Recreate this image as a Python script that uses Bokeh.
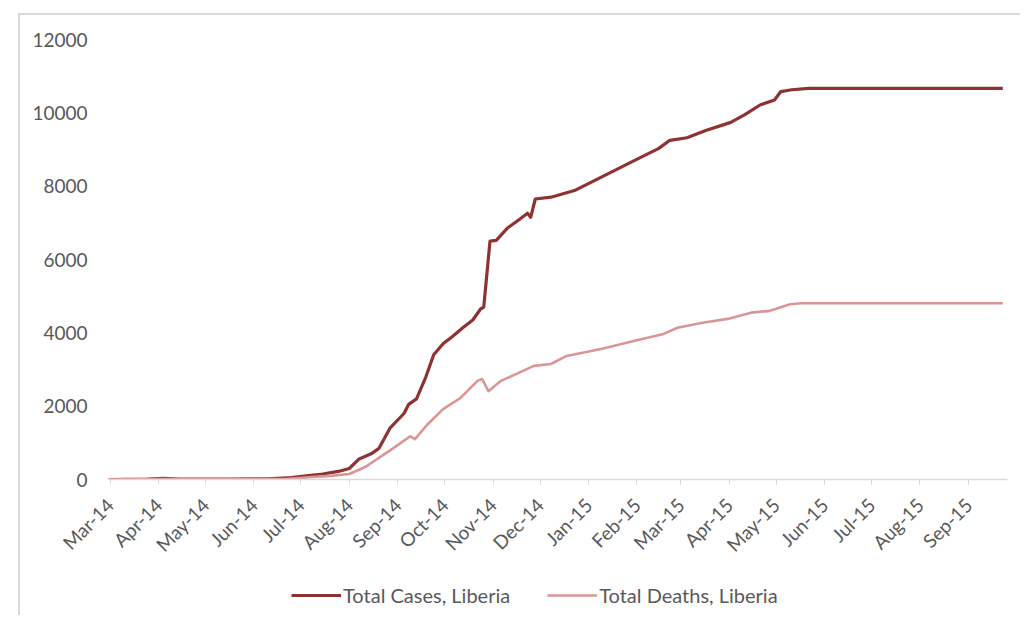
import pandas as pd
from bokeh.plotting import figure
from bokeh.layouts import column
from bokeh.models import Range1d, FixedTicker, Legend, LegendItem
from bokeh.embed import file_html
from bokeh.resources import INLINE

# ---- data ----
case_dates = ["2014-02-28", "2014-03-25", "2014-04-04", "2014-04-14", "2014-05-14",
              "2014-06-10", "2014-06-25", "2014-07-06", "2014-07-15", "2014-07-25",
              "2014-08-01", "2014-08-07", "2014-08-15", "2014-08-20", "2014-08-27",
              "2014-09-05", "2014-09-08", "2014-09-13", "2014-09-19", "2014-09-24",
              "2014-09-30", "2014-10-06", "2014-10-13", "2014-10-19", "2014-10-24",
              "2014-10-26", "2014-10-30", "2014-11-03", "2014-11-10", "2014-11-18",
              "2014-11-23", "2014-11-25", "2014-11-28", "2014-12-08", "2014-12-23",
              "2015-01-07", "2015-01-28", "2015-02-15", "2015-02-22", "2015-03-05",
              "2015-03-17", "2015-04-02", "2015-04-11", "2015-04-21", "2015-04-30",
              "2015-05-04", "2015-05-11", "2015-05-22", "2015-09-23"]
total_cases = [0, 8, 30, 12, 14,
               18, 50, 110, 150, 220,
               300, 550, 700, 850, 1400,
               1800, 2050, 2200, 2800, 3400,
               3700, 3900, 4150, 4350, 4650,
               4700, 6500, 6520, 6850, 7100,
               7260, 7150, 7650, 7700, 7880,
               8200, 8650, 9030, 9250, 9320,
               9520, 9740, 9950, 10220, 10350,
               10580, 10630, 10666, 10666]

death_dates = ["2014-02-28", "2014-04-04", "2014-06-21", "2014-07-06", "2014-07-20",
               "2014-08-01", "2014-08-08", "2014-08-12", "2014-08-23", "2014-08-29",
               "2014-09-09", "2014-09-12", "2014-09-20", "2014-09-30", "2014-10-11",
               "2014-10-22", "2014-10-25", "2014-10-29", "2014-11-06", "2014-11-16",
               "2014-11-27", "2014-12-08", "2014-12-18", "2015-01-09", "2015-01-30",
               "2015-02-18", "2015-02-27", "2015-03-14", "2015-03-31", "2015-04-15",
               "2015-04-27", "2015-05-10", "2015-05-17", "2015-09-23"]
total_deaths = [0, 15, 10, 60, 100,
                150, 280, 360, 680, 850,
                1180, 1100, 1500, 1920, 2220,
                2690, 2740, 2410, 2690, 2880,
                3100, 3150, 3370, 3560, 3780,
                3970, 4140, 4270, 4380, 4550,
                4600, 4780, 4806, 4806]

month_starts = ["2014-03-01", "2014-04-01", "2014-05-01", "2014-06-01", "2014-07-01",
                "2014-08-01", "2014-09-01", "2014-10-01", "2014-11-01", "2014-12-01",
                "2015-01-01", "2015-02-01", "2015-03-01", "2015-04-01", "2015-05-01",
                "2015-06-01", "2015-07-01", "2015-08-01", "2015-09-01"]
month_labels = ["Mar-14", "Apr-14", "May-14", "Jun-14", "Jul-14", "Aug-14", "Sep-14",
                "Oct-14", "Nov-14", "Dec-14", "Jan-15", "Feb-15", "Mar-15", "Apr-15",
                "May-15", "Jun-15", "Jul-15", "Aug-15", "Sep-15"]
y_ticks = [0, 2000, 4000, 6000, 8000, 10000, 12000]

series_names = ["Total Cases, Liberia", "Total Deaths, Liberia"]
series_colors = ["#8E3331", "#D99694"]
series_widths = [3.2, 2.6]

# ---- main figure ----
cd = pd.to_datetime(case_dates)
dd = pd.to_datetime(death_dates)
tick_ms = [pd.Timestamp(m).value // 10**6 for m in month_starts]

FONT = "Lato"
LABEL_COLOR = "#595959"

p = figure(frame_width=899, frame_height=440, x_axis_type="datetime",
           output_backend="svg", toolbar_location=None,
           x_range=Range1d(pd.Timestamp("2014-02-28"), pd.Timestamp("2015-09-26")),
           y_range=Range1d(0, 12000),
           min_border_left=88, min_border_right=13, min_border_top=24,
           min_border_bottom=96)
p.margin = 0
p.outline_line_color = None
p.grid.grid_line_color = None
p.background_fill_color = "white"
p.border_fill_color = "white"

p.line(cd, total_cases, line_color=series_colors[0], line_width=series_widths[0],
       line_join="round")
p.line(dd, total_deaths, line_color=series_colors[1], line_width=series_widths[1],
       line_join="round")

# y axis
p.yaxis.ticker = FixedTicker(ticks=y_ticks)
p.yaxis.axis_line_color = None
p.yaxis.major_tick_line_color = None
p.yaxis.minor_tick_line_color = None
p.yaxis.major_label_standoff = 15
p.yaxis.major_label_text_font = FONT
p.yaxis.major_label_text_font_size = "19px"
p.yaxis.major_label_text_color = LABEL_COLOR

# x axis
p.xaxis.ticker = FixedTicker(ticks=tick_ms)
p.xaxis.major_label_overrides = {t: lab for t, lab in zip(tick_ms, month_labels)}
p.xaxis.axis_line_color = "#d9d9d9"
p.xaxis.axis_line_width = 1.5
p.xaxis.major_tick_line_color = "#d9d9d9"
p.xaxis.major_tick_in = 0
p.xaxis.major_tick_out = 5
p.xaxis.minor_tick_line_color = None
p.xaxis.major_label_orientation = 0.785398
p.xaxis.major_label_standoff = 17
p.xaxis.major_label_text_font = FONT
p.xaxis.major_label_text_font_size = "19px"
p.xaxis.major_label_text_color = LABEL_COLOR

# ---- legend strip (separate small figure under the chart) ----
lg = figure(width=1000, height=40, output_backend="svg", toolbar_location=None,
            x_axis_location=None, y_axis_location=None,
            x_range=Range1d(0, 1), y_range=Range1d(0, 1),
            min_border=0)
lg.margin = 0
lg.outline_line_color = None
lg.grid.grid_line_color = None
lg.border_fill_color = "white"
nan = float("nan")
k1 = lg.line([nan], [nan], line_color=series_colors[0], line_width=series_widths[0])
k2 = lg.line([nan], [nan], line_color=series_colors[1], line_width=series_widths[1])
legend = Legend(items=[LegendItem(label=series_names[0], renderers=[k1]),
                       LegendItem(label=series_names[1], renderers=[k2])],
                orientation="horizontal", location=(183, 8),
                glyph_width=50, glyph_height=20, label_standoff=2, spacing=37,
                label_text_font=FONT, label_text_font_size="20px",
                label_text_color=LABEL_COLOR,
                border_line_color=None, background_fill_alpha=0,
                padding=4, margin=0)
lg.add_layout(legend, "center")

layout = column(p, lg, spacing=0)
layout.margin = (13, 0, 0, 18)
layout.styles = {"border-left": "2px solid #d9d9d9", "border-top": "2px solid #d9d9d9"}

open("out.html", "w").write(file_html(layout, INLINE))
